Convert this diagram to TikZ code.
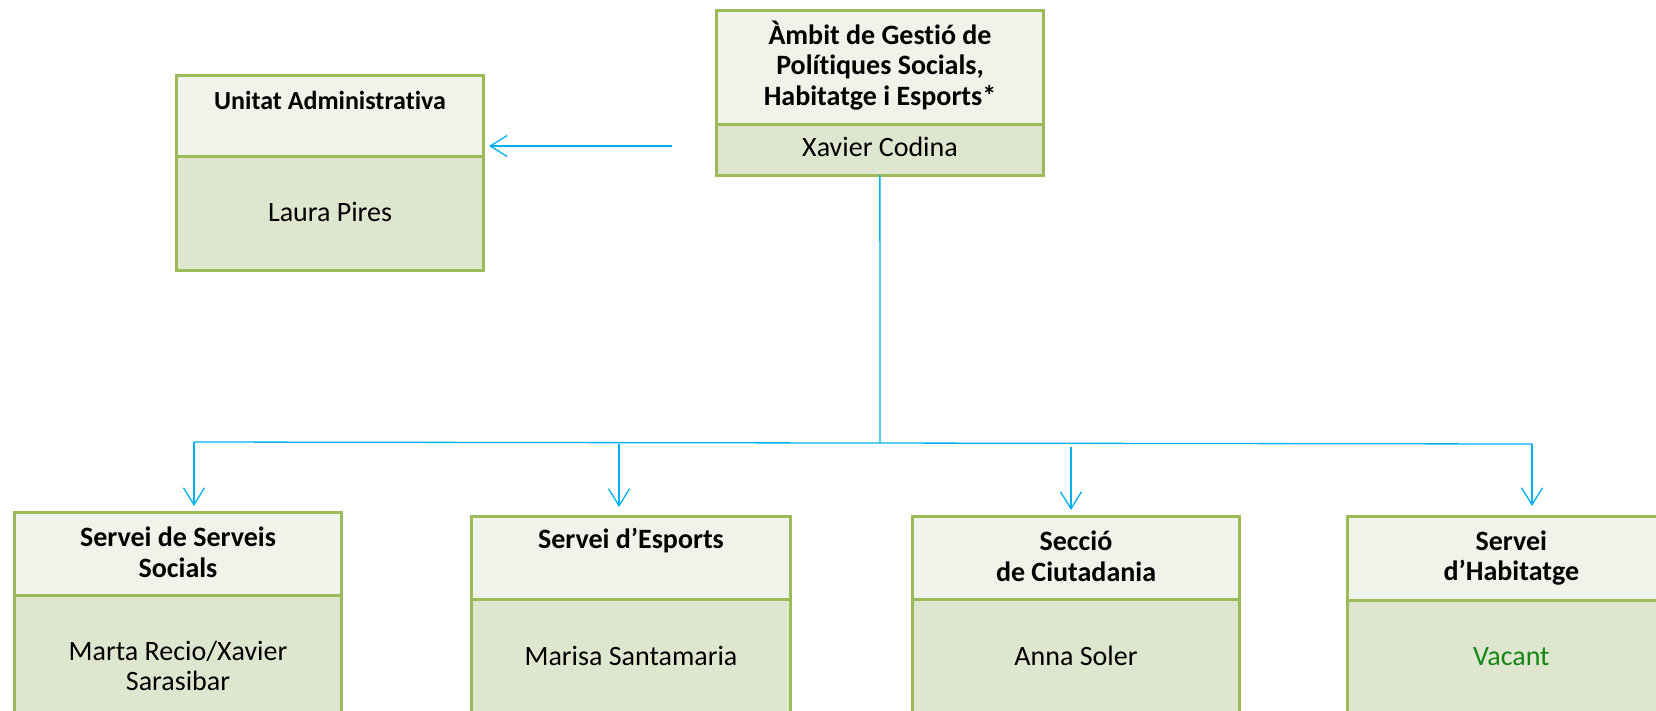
\documentclass[tikz,border=0pt]{standalone}
\usepackage{fontspec}
\setmainfont{Carlito}[Ligatures={NoCommon}]
\usetikzlibrary{arrows.meta}
\definecolor{bordergreen}{RGB}{155,187,89}
\definecolor{toplight}{RGB}{240,243,234}
\definecolor{lowfill}{RGB}{222,230,208}
\definecolor{linkblue}{RGB}{0,176,240}
\definecolor{vacantgreen}{RGB}{20,135,20}
\begin{document}
\begin{tikzpicture}[x=1pt,y=-1pt,
  hdr/.style={draw=bordergreen, line width=3pt, fill=toplight, anchor=north west, inner sep=0pt, outer sep=0pt},
  bodybox/.style={draw=bordergreen, line width=3pt, fill=lowfill, anchor=north west, inner sep=0pt, outer sep=0pt},
  ttl/.style={font=\fontsize{28}{30.5}\selectfont\bfseries, align=center, anchor=base, inner sep=0pt},
  nm/.style={font=\fontsize{28}{30.5}\selectfont, align=center, anchor=base, inner sep=0pt},
  link/.style={draw=linkblue, line width=1.3pt},
  arr/.style={link, -{Straight Barb[length=17pt,width=21pt,line width=1.3pt]}}
]
\useasboundingbox (0,0) rectangle (1656,710);
\clip (0,0) rectangle (1656,710);

% top box
\node[hdr, minimum width=326.3pt, minimum height=114pt] (tb-h) at (716.7,10) {};
\node[bodybox, minimum width=326.3pt, minimum height=51pt] (tb-b) at (716.7,124) {};
\node[ttl] (tb-t) at (880,105) {Àmbit de Gestió de\\Polítiques Socials,\\Habitatge i Esports*};
\node[nm] (tb-n) at (880,156.7) {Xavier Codina};

% unitat administrativa
\node[hdr, minimum width=306.3pt, minimum height=81.7pt] (ua-h) at (176.7,75) {};
\node[bodybox, minimum width=306.3pt, minimum height=114pt] (ua-b) at (176.7,156.7) {};
\node[ttl, font=\fontsize{26}{30.5}\selectfont\bfseries] (ua-t) at (330,109) {Unitat Administrativa};
\node[nm] (ua-n) at (330,221.7) {Laura Pires};

% serveis socials
\node[hdr, minimum width=327.7pt, minimum height=83pt] (ss-h) at (14,512.7) {};
\node[bodybox, minimum width=327.7pt, minimum height=140pt] (ss-b) at (14,595.7) {};
\node[ttl] (ss-t) at (178,577) {Servei de Serveis\\Socials};
\node[nm] (ss-n) at (178,690.7) {Marta Recio/Xavier\\Sarasibar};

% esports
\node[hdr, minimum width=318.3pt, minimum height=82.6pt] (es-h) at (471.7,516.7) {};
\node[bodybox, minimum width=318.3pt, minimum height=140pt] (es-b) at (471.7,599.3) {};
\node[ttl] (es-t) at (631,548.3) {Servei d’Esports};
\node[nm] (es-n) at (631,665) {Marisa Santamaria};

% seccio de ciutadania
\node[hdr, minimum width=327pt, minimum height=83.3pt] (sc-h) at (912.3,516) {};
\node[bodybox, minimum width=327pt, minimum height=140pt] (sc-b) at (912.3,599.3) {};
\node[ttl] (sc-t) at (1076,581) {Secció\\de Ciutadania};
\node[nm] (sc-n) at (1076,665) {Anna Soler};

% habitatge
\node[hdr, minimum width=327.3pt, minimum height=83.3pt] (hb-h) at (1347.7,516.7) {};
\node[bodybox, minimum width=327.3pt, minimum height=140pt] (hb-b) at (1347.7,600) {};
\node[ttl] (hb-t) at (1511.3,580.7) {Servei\\d’Habitatge};
\node[nm, text=vacantgreen] (hb-n) at (1511.3,665) {Vacant};

% connectors
\coordinate (tb-out) at (671.7,146);
\coordinate (bus-l) at (194,442);
\coordinate (bus-m) at (880,443);
\coordinate (bus-r) at (1532,444);
\coordinate (es-tap) at (619,444);
\coordinate (sc-tap) at (1071,447);

\draw[arr, shorten >=6pt] (tb-out) -- (ua-h.east |- tb-out);
\draw[link] (tb-b.south) -- (bus-m);
\draw[link] (bus-l) -- (bus-r);
\draw[arr, shorten >=6.7pt] (bus-l) -- (bus-l |- ss-h.north);
\draw[arr, shorten >=9.7pt] (es-tap) -- (es-tap |- es-h.north);
\draw[arr, shorten >=6pt] (sc-tap) -- (sc-tap |- sc-h.north);
\draw[arr, shorten >=10.7pt] (bus-r) -- (bus-r |- hb-h.north);
\end{tikzpicture}
\end{document}
